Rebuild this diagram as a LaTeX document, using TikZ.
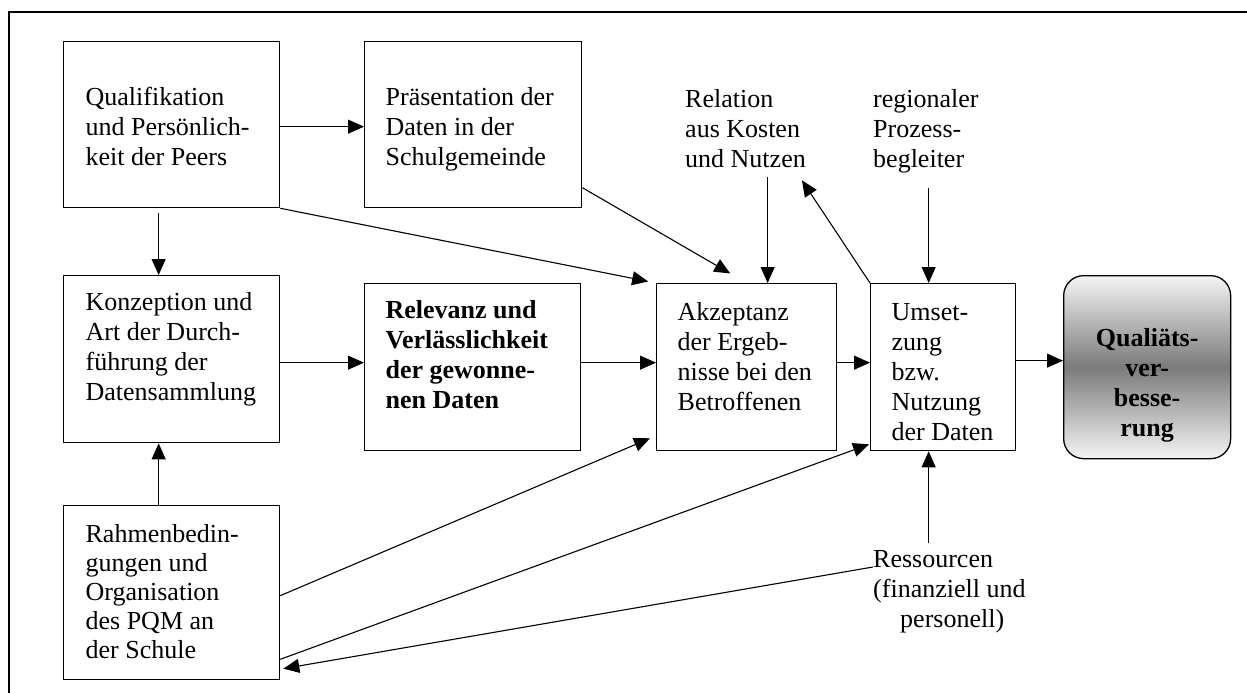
\documentclass[tikz,border=0pt]{standalone}
\usepackage{fontspec}
\setmainfont{Liberation Serif}
\newfontfamily\serifface{Liberation Serif}
\usetikzlibrary{arrows.meta,calc}

\newcommand{\fs}{\serifface\fontsize{26}{30}\selectfont}
% text block inside a box: width, height, top gap, left inset, line skip, text
\newcommand{\boxtxt}[6]{\parbox[c][#2pt][t]{#1pt}{\fs\baselineskip=#5pt\relax
  \vspace*{#3pt}\raggedright\leftskip=#4pt\relax
  \strut#6\strut}}
% centred bold text block: width, height, top gap, text
\newcommand{\ctrtxt}[4]{\parbox[c][#2pt][t]{#1pt}{\fs
  \vspace*{#3pt}\centering\bfseries\strut#4\strut}}

\begin{document}
\begin{tikzpicture}[x=1pt,y=-1pt,
  box/.style={draw, line width=1.3pt, inner sep=0pt, anchor=north west},
  goal/.style={box, rounded corners=20pt, top color=black!4, bottom color=black!4, middle color=black!52},
  conn/.style={line width=1.1pt, -{Triangle[length=16pt,width=14pt]}},
  lbl/.style={inner sep=0pt, anchor=north west, align=left, font=\fs},
  frame/.style={line width=2pt}]

\useasboundingbox (0,0) rectangle (1247,693);

% outer frame (top and left edges)
\draw[frame] (1247,12) -- (9,12) -- (9,693);

% boxes
\node[box] (A) at (63,41)   {\boxtxt{216}{166}{43}{22}{30}{Qualifikation\\und Persönlich-\\keit der Peers}};
\node[box] (B) at (364,41)  {\boxtxt{217}{166}{43}{21}{30}{Präsentation der\\Daten in der\\Schulgemeinde}};
\node[box] (C) at (63,275)  {\boxtxt{216}{167}{14}{22}{30}{Konzeption und\\Art der Durch-\\führung der\\Datensammlung}};
\node[box] (D) at (364,283) {\boxtxt{216}{167}{14}{21}{30}{\bfseries Relevanz und\\\bfseries Verlässlichkeit\\\bfseries der gewonne-\\\bfseries nen Daten}};
\node[box] (E) at (656,283) {\boxtxt{180}{167}{16}{21}{30}{Akzeptanz\\der Ergeb-\\nisse bei den\\Betroffenen}};
\node[box] (F) at (870,283) {\boxtxt{145}{167}{16}{21}{30}{Umset-\\zung\\bzw.\\Nutzung\\der Daten}};
\node[goal] (G) at (1063,275) {\ctrtxt{167}{183}{50}{Qualiäts-\\ver-\\besse-\\rung}};
\node[box] (H) at (63,505)  {\boxtxt{216}{174}{16}{22}{29}{Rahmenbedin-\\gungen und\\Organisation\\des PQM an\\der Schule}};

% free-standing factors
\node[lbl] (Rel) at (685,86)  {\strut Relation\\aus Kosten\\und Nutzen\strut};
\node[lbl] (Reg) at (873,86)  {\strut regionaler\\Prozess-\\begleiter\strut};
\node[lbl] (Res) at (873,546) {\strut Ressourcen\\(finanziell und\\\hspace*{27pt}personell)\strut};

% entry points
\coordinate (relIn) at ([xshift=21pt]E.north);
\coordinate (regIn) at ([xshift=-14.5pt]F.north);
\coordinate (resIn) at ([xshift=-14.5pt]F.south);

% connectors
\draw[conn] ([yshift=-2pt]A.east) -- ([yshift=-2pt]B.west);
\draw[conn, shorten <=5pt] ([xshift=-13pt]A.south) -- ([xshift=-13pt]C.north);
\draw[conn] ([xshift=-13pt]H.north) -- ([xshift=-13pt]C.south);
\draw[conn] ([yshift=-3.5pt]C.east) -- ([yshift=4.5pt]D.west);
\draw[conn] ([yshift=4.5pt]D.east) -- ([yshift=4.5pt]E.west);
\draw[conn] ([yshift=4.5pt]E.east) -- ([yshift=4.5pt]F.west);
\draw[conn] ([yshift=6.5pt]F.east) -- ([yshift=6.5pt]G.west);

\draw[conn, shorten >=8pt] (A.south east) -- (E.north west);
\draw[conn, shorten >=19pt] ([yshift=-63pt]B.east) -- (E.north);
\draw[conn, shorten <=1pt] (Rel.south -| relIn) -- (relIn);
\draw[conn] (F.north west) -- ([xshift=-4pt,yshift=-4pt]Rel.south east);
\draw[conn, shorten <=12pt] (Reg.south -| regIn) -- (regIn);

\draw[conn] ([yshift=-3pt]H.east) -- ([xshift=-6pt,yshift=13pt]E.south west);
\draw[conn] ([yshift=21pt]H.south east) -- ([xshift=-1pt,yshift=7pt]F.south west);
\draw[conn] ([yshift=-21pt]Res.north west) -- ([xshift=3pt,yshift=-76pt]H.east);
\draw[conn, shorten <=3pt] (Res.north -| resIn) -- (resIn);

\end{tikzpicture}
\end{document}
